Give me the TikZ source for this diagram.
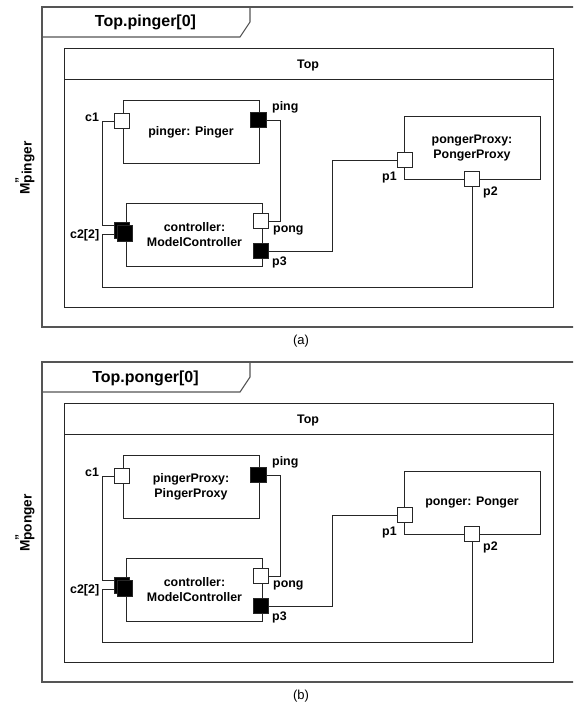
\documentclass[tikz,border=0pt]{standalone}
\usepackage{fontspec}
\setmainfont{Liberation Sans}
\usepackage{xcolor}
\usepackage{tikz}
\usetikzlibrary{positioning}
\definecolor{UFrame}{HTML}{555555}
\definecolor{ULine}{HTML}{262626}

\begin{document}
\begin{tikzpicture}[x=1pt,y=-1pt,
  part/.style={draw=ULine,line width=0.8pt,minimum width=136pt,minimum height=63pt,
    align=center,font=\bfseries\fontsize{12.4}{15}\selectfont},
  port/.style={draw=ULine,line width=0.8pt,fill=white,minimum size=15.5pt,inner sep=0pt},
  fport/.style={port,fill=black},
  lbl/.style={anchor=base west,inner sep=0pt,font=\bfseries\fontsize{12.4}{15}\selectfont},
  wire/.style={draw=ULine,line width=0.8pt},
  frame/.style={draw=UFrame,line width=1.1pt}
]
  \useasboundingbox (0,0) rectangle (573,704);
  \clip (0,0) rectangle (573,704);
  \foreach \dy/\tg/\who/\pa/\pb in {0/a/pinger/{pinger: Pinger}/{pongerProxy:\\PongerProxy},
      355/b/ponger/{pingerProxy:\\PingerProxy}/{ponger: Ponger}}
  {
  \begin{scope}[yshift=-\dy pt]
    \draw[frame] (42,7) rectangle (580,327);
    \draw[frame] (250,7) -- (250,22) -- (240,37) -- (42,37);
    \draw[wire] (64,48) rectangle (553,307);
    \draw[wire] (64,79) -- (553,79);
    \node[anchor=base,inner sep=0pt,font=\bfseries\fontsize{16}{18}\selectfont] (\tg-tab) at (145.5,27) {Top.\who[0]};
    \node[lbl,anchor=base] (\tg-top) at (308,68) {Top};
    \node[rotate=90,inner sep=0pt,font=\bfseries\fontsize{13.7}{15}\selectfont] (\tg-m) at (25,168)
      {M\rlap{\raisebox{6pt}{\fontsize{12}{12}\selectfont"}}\raisebox{-2pt}{\who}};
    \node[font=\fontsize{13}{15}\selectfont] (\tg-cap) at (301,341) {(\tg)};
    \node[part] (\tg-pa) at (191,132) {\pa};
    \node[part] (\tg-ctl) at (194.5,235) {controller:\\ModelController};
    \node[part] (\tg-pb) at (472,148) {\pb};
    \node[port] (\tg-c1) at (122,121) {};
    \node[fport] (\tg-ping) at (258.5,120) {};
    \node[port] (\tg-pong) at (261,221) {};
    \node[fport] (\tg-p3) at (261,251) {};
    \node[fport] (\tg-c2b) at (122,230.5) {};
    \node[fport] (\tg-c2) at (125,233.5) {};
    \node[port] (\tg-p1) at (405,160) {};
    \node[port] (\tg-p2) at (472,179) {};
    \node[lbl] (\tg-lc1) at (85,121) {c1};
    \node[lbl] (\tg-lping) at (272,110.5) {ping};
    \node[lbl] (\tg-lpong) at (273,232.5) {pong};
    \node[lbl] (\tg-lp3) at (272,265) {p3};
    \node[lbl] (\tg-lc2) at (70,238.5) {c2[2]};
    \node[lbl] (\tg-lp1) at (382,180) {p1};
    \node[lbl] (\tg-lp2) at (483,195) {p2};
    \draw[wire] (\tg-c1.west) -- ++(-11,0) |- ([yshift=5.5pt]\tg-c2b.west);
    \draw[wire] ([yshift=-3.5pt]\tg-c2b.west) -- ++(-11.5,0) -- ++(0,53) -| (\tg-p2.south);
    \draw[wire] (\tg-ping.east) -- ++(14,0) |- (\tg-pong.east);
    \draw[wire] (\tg-p3.east) -- ++(63,0) |- (\tg-p1.west);
  \end{scope}
  }
\end{tikzpicture}
\end{document}
